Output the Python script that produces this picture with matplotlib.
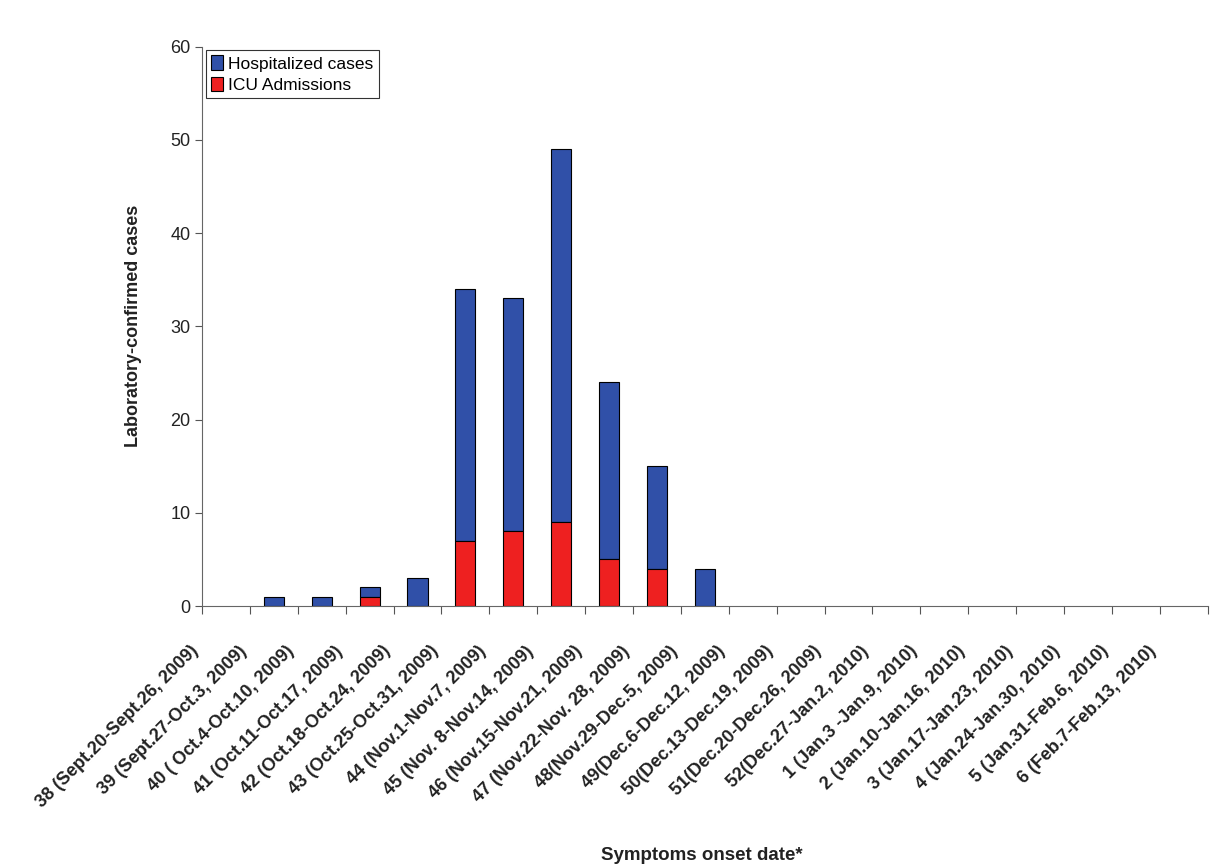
import matplotlib
matplotlib.use("Agg")
import matplotlib.pyplot as plt
import matplotlib.transforms as mtransforms
import numpy as np

plt.rcParams['font.family'] = ['Liberation Sans', 'DejaVu Sans']

labels = ["38 (Sept.20-Sept.26, 2009)", "39 (Sept.27-Oct.3, 2009)", "40 ( Oct.4-Oct.10, 2009)",
          "41 (Oct.11-Oct.17, 2009)", "42 (Oct.18-Oct.24, 2009)", "43 (Oct.25-Oct.31, 2009)",
          "44 (Nov.1-Nov.7, 2009)", "45 (Nov. 8-Nov.14, 2009)", "46 (Nov.15-Nov.21, 2009)",
          "47 (Nov.22-Nov. 28, 2009)", "48(Nov.29-Dec.5, 2009)", "49(Dec.6-Dec.12, 2009)",
          "50(Dec.13-Dec.19, 2009)", "51(Dec.20-Dec.26, 2009)", "52(Dec.27-Jan.2, 2010)",
          "1 (Jan.3 -Jan.9, 2010)", "2 (Jan.10-Jan.16, 2010)", "3 (Jan.17-Jan.23, 2010)",
          "4 (Jan.24-Jan.30, 2010)", "5 (Jan.31-Feb.6, 2010)", "6 (Feb.7-Feb.13, 2010)"]
hospitalized = [0, 1, 1, 2, 3, 34, 33, 49, 24, 15, 4, 0, 0, 0, 0, 0, 0, 0, 0, 0, 0]
icu = [0, 0, 0, 1, 0, 7, 8, 9, 5, 4, 0, 0, 0, 0, 0, 0, 0, 0, 0, 0, 0]

hosp = np.array(hospitalized, float)
icu_a = np.array(icu, float)
x = np.arange(len(labels))
hb = hosp - icu_a > 0
ib = icu_a > 0

fig = plt.figure(figsize=(12.1, 8.65), dpi=100)
ax = fig.add_axes([0.167, 0.2994, 0.831, 0.6466])
ax.bar(x[hb], (hosp - icu_a)[hb], bottom=icu_a[hb], width=0.42, color='#3050A8', edgecolor='black',
       linewidth=0.8, label='Hospitalized cases')
ax.bar(x[ib], icu_a[ib], width=0.42, color='#EE2020', edgecolor='black', linewidth=0.8,
       label='ICU Admissions')

ax.set_xlim(-0.5, len(labels) - 0.5)
ax.set_ylim(0, 60)
ax.set_yticks(range(0, 61, 10))
ax.set_xticks(np.arange(-0.5, len(labels), 1.0))
ax.set_xticklabels([])
ax.set_xticks(x, minor=True)
ax.set_xticklabels(labels, minor=True, rotation=45, ha='right', rotation_mode='anchor',
                   fontsize=13, fontweight='bold', color='#222222')
ax.tick_params(axis='x', which='minor', length=0, pad=22)
off = mtransforms.ScaledTranslation(-0.36, -0.06, fig.dpi_scale_trans)
for lab in ax.get_xticklabels(minor=True):
    lab.set_transform(lab.get_transform() + off)
ax.tick_params(axis='x', which='major', length=6, direction='out', color='#555555')
ax.tick_params(axis='y', labelsize=13, color='#555555', length=5, labelcolor='#222222')
for s in ['top', 'right']:
    ax.spines[s].set_visible(False)
for s in ['left', 'bottom']:
    ax.spines[s].set_color('#666666')

ax.set_ylabel('Laboratory-confirmed cases', fontsize=13, fontweight='bold', labelpad=20,
              color='#222222')
fig.text(0.58, 0.006, 'Symptoms onset date*', ha='center', fontsize=13.5, fontweight='bold',
         color='#222222')

leg = ax.legend(loc='upper left', fontsize=12.5, frameon=True, fancybox=False, edgecolor='black',
                handlelength=0.7, handleheight=0.9, handletextpad=0.3, borderpad=0.3,
                labelspacing=0.3, bbox_to_anchor=(0.0, 1.0), borderaxespad=0.2)
leg.get_frame().set_linewidth(0.8)

fig.savefig('out.png', dpi=100)
